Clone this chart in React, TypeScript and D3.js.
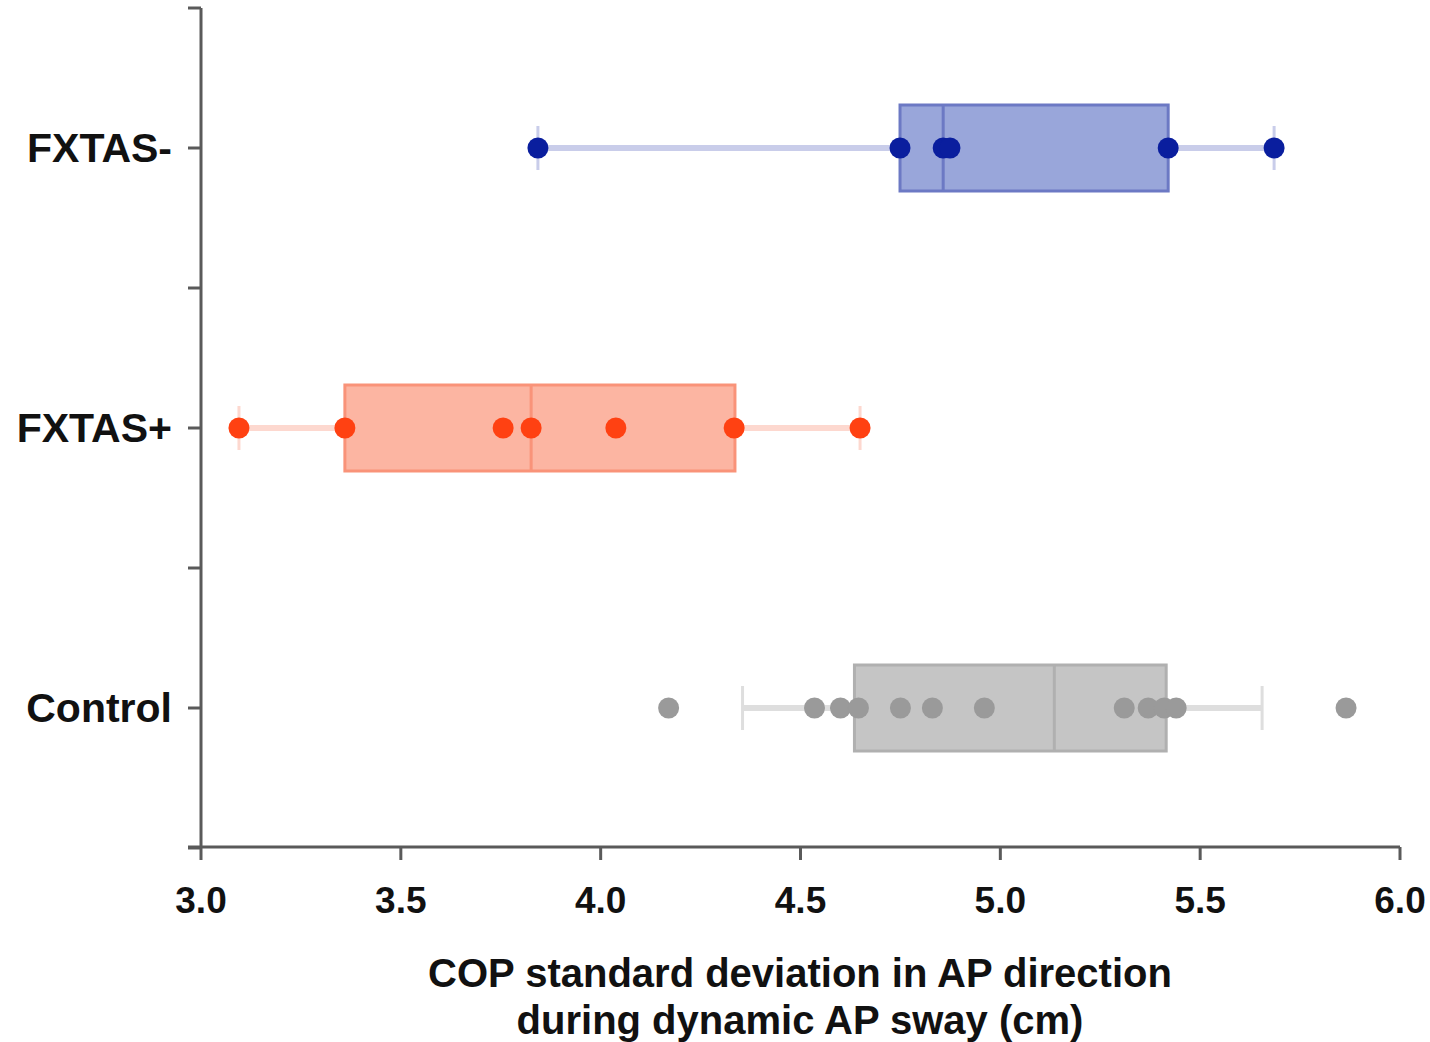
import * as d3 from "d3";

// groups top to bottom
const categories = ["FXTAS-", "FXTAS+", "Control"];

// individual subjects (cm)
const fxtasMinus = [3.843, 4.749, 4.857, 4.874, 5.42, 5.685];
const fxtasPlus = [3.095, 3.36, 3.756, 3.826, 4.038, 4.334, 4.649];
const control = [4.17, 4.535, 4.6, 4.645, 4.75, 4.83, 4.96, 5.31, 5.37, 5.41, 5.44, 5.865];

// box summary per group: [whiskerLow, q1, median, q3, whiskerHigh]
const boxStats = [
    [3.843, 4.749, 4.857, 5.42, 5.685],
    [3.095, 3.36, 3.826, 4.336, 4.649],
    [4.355, 4.635, 5.135, 5.415, 5.655],
];

const xTicks = [3.0, 3.5, 4.0, 4.5, 5.0, 5.5, 6.0];
const titleLines = ["COP standard deviation in AP direction", "during dynamic AP sway (cm)"];

const points = [fxtasMinus, fxtasPlus, control];

const palette = [
    { fill: "#99a6da", stroke: "#6c79c4", dot: "#0a1e9e", whisker: "#c9cdea" },
    { fill: "#fcb5a2", stroke: "#f99379", dot: "#ff4112", whisker: "#fdd8cf" },
    { fill: "#c5c5c5", stroke: "#b0b0b0", dot: "#9a9a9a", whisker: "#dedede" },
];

const W = 1430;
const H = 1042;
const font = "'Liberation Sans', Arial, sans-serif";

export default function App() {
    const x = d3.scaleLinear().domain([3, 6]).range([201, 1400]);
    const y = d3.scalePoint().domain(categories).range([8, 848]).padding(0.5);
    const step = y.step();
    const boxHalf = 43;
    const capHalf = 22;

    const yTicks = [8, ...categories.map((c) => (y(c) as number) + step / 2), ...categories.map((c) => y(c) as number)];

    return (
        <svg width={W} height={H} style={{ position: "absolute", left: 0, top: 0, background: "#fff" }}>
            {/* axes */}
            <line x1={201} x2={201} y1={8} y2={848} stroke="#5a5a5a" strokeWidth={3} />
            <line x1={188} x2={1400} y1={847} y2={847} stroke="#5a5a5a" strokeWidth={3} />
            {yTicks.map((t, i) => (
                <line key={"yt" + i} x1={188} x2={201} y1={t} y2={t} stroke="#5a5a5a" strokeWidth={3} />
            ))}
            {xTicks.map((t) => (
                <g key={"xt" + t}>
                    <line x1={x(t)} x2={x(t)} y1={847} y2={860} stroke="#5a5a5a" strokeWidth={3} />
                    <text
                        x={x(t)}
                        y={913}
                        textAnchor="middle"
                        fontFamily={font}
                        fontWeight="bold"
                        fontSize={37}
                        fill="#111"
                    >
                        {d3.format(".1f")(t)}
                    </text>
                </g>
            ))}
            {categories.map((c) => (
                <text
                    key={"lab" + c}
                    x={172}
                    y={(y(c) as number) + 14}
                    textAnchor="end"
                    fontFamily={font}
                    fontWeight="bold"
                    fontSize={41}
                    fill="#111"
                >
                    {c}
                </text>
            ))}
            {titleLines.map((l, i) => (
                <text
                    key={"title" + i}
                    x={800}
                    y={987 + i * 47}
                    textAnchor="middle"
                    fontFamily={font}
                    fontWeight="bold"
                    fontSize={40}
                    fill="#111"
                >
                    {l}
                </text>
            ))}

            {/* boxes */}
            {categories.map((c, i) => {
                const cy = y(c) as number;
                const [lo, q1, med, q3, hi] = boxStats[i];
                const col = palette[i];
                return (
                    <g key={"box" + c}>
                        <line x1={x(lo)} x2={x(hi)} y1={cy} y2={cy} stroke={col.whisker} strokeWidth={6} />
                        <line x1={x(lo)} x2={x(lo)} y1={cy - capHalf} y2={cy + capHalf} stroke={col.whisker} strokeWidth={3} />
                        <line x1={x(hi)} x2={x(hi)} y1={cy - capHalf} y2={cy + capHalf} stroke={col.whisker} strokeWidth={3} />
                        <rect
                            x={x(q1)}
                            y={cy - boxHalf}
                            width={x(q3) - x(q1)}
                            height={boxHalf * 2}
                            fill={col.fill}
                            stroke={col.stroke}
                            strokeWidth={3}
                        />
                        <line x1={x(med)} x2={x(med)} y1={cy - boxHalf} y2={cy + boxHalf} stroke={col.stroke} strokeWidth={3} />
                        {points[i].map((v, j) => (
                            <circle key={j} cx={x(v)} cy={cy} r={10.5} fill={col.dot} />
                        ))}
                    </g>
                );
            })}
        </svg>
    );
}
